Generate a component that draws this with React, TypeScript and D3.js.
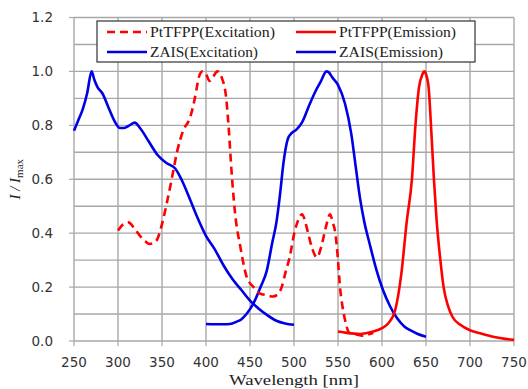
import React from 'react';
import * as d3 from 'd3';

type Pt = [number, number];

// ZAIS excitation (blue solid)
const zaisExcitation: Pt[] = [
  [250, 0.78], [255, 0.82], [260, 0.86], [265, 0.92], [270, 1.0], [273, 0.97], [277, 0.94], [282, 0.92],
  [290, 0.86], [297, 0.81], [302, 0.79], [307, 0.79], [313, 0.8], [319, 0.81], [325, 0.79], [335, 0.74],
  [345, 0.69], [355, 0.66], [365, 0.64], [372, 0.6], [380, 0.54], [390, 0.46], [400, 0.39], [410, 0.34],
  [420, 0.28], [430, 0.23], [440, 0.19], [450, 0.15], [460, 0.12], [470, 0.095], [480, 0.075], [490, 0.065],
  [500, 0.06],
];

// ZAIS emission (blue solid)
const zaisEmission: Pt[] = [
  [400, 0.063], [410, 0.062], [420, 0.062], [427, 0.063], [435, 0.072], [440, 0.08], [446, 0.1], [454, 0.14],
  [462, 0.2], [469, 0.26], [475, 0.36], [480, 0.44], [484, 0.54], [488, 0.66], [493, 0.75], [497, 0.77],
  [503, 0.785], [509, 0.81], [518, 0.88], [525, 0.93], [530, 0.96], [537, 1.0], [540, 0.995], [543, 0.98],
  [550, 0.95], [558, 0.88], [565, 0.77], [570, 0.65], [575, 0.53], [580, 0.44], [586, 0.36], [594, 0.26],
  [601, 0.19], [609, 0.13], [617, 0.085], [625, 0.055], [632, 0.04], [640, 0.027], [650, 0.016],
];

// PtTFPP excitation (red dashed)
const ptExcitation: Pt[] = [
  [300, 0.41], [305, 0.43], [312, 0.44], [318, 0.42], [325, 0.39], [331, 0.37], [336, 0.36], [341, 0.365],
  [345, 0.38], [348, 0.41], [352, 0.46], [356, 0.52], [361, 0.6], [367, 0.7], [374, 0.78], [382, 0.83],
  [386, 0.88], [389, 0.93], [392, 0.98], [396, 1.0], [400, 0.99], [404, 0.965], [408, 0.98], [413, 1.0],
  [418, 0.976], [423, 0.9], [426, 0.78], [429, 0.63], [433, 0.475], [439, 0.35], [446, 0.24], [454, 0.2],
  [461, 0.177], [469, 0.17], [476, 0.165], [482, 0.175], [486, 0.2], [490, 0.25], [495, 0.31], [501, 0.41],
  [505, 0.45], [509, 0.47], [513, 0.44], [516, 0.4], [521, 0.34], [526, 0.31], [531, 0.35], [536, 0.42],
  [541, 0.47], [544, 0.44], [547, 0.4], [550, 0.3], [552, 0.21], [555, 0.13], [558, 0.078], [563, 0.03],
  [570, 0.025], [578, 0.02], [585, 0.025], [590, 0.03],
];

// PtTFPP emission (red solid)
const ptEmission: Pt[] = [
  [550, 0.035], [560, 0.03], [575, 0.026], [590, 0.035], [600, 0.048], [607, 0.065], [615, 0.115], [622, 0.25],
  [628, 0.44], [634, 0.6], [638, 0.8], [642, 0.94], [646, 0.99], [648, 1.0], [650, 0.99], [653, 0.94],
  [656, 0.78], [659, 0.6], [662, 0.45], [666, 0.31], [670, 0.2], [675, 0.13], [680, 0.09], [689, 0.06],
  [700, 0.04], [710, 0.03], [726, 0.016], [740, 0.008], [750, 0.004],
];

const xTicks = [250, 300, 350, 400, 450, 500, 550, 600, 650, 700, 750];
const yTicks = [0, 0.2, 0.4, 0.6, 0.8, 1.0, 1.2];
const yGrid = [0, 0.1, 0.2, 0.3, 0.4, 0.5, 0.6, 0.7, 0.8, 0.9, 1.0, 1.1, 1.2];

const RED = '#ff0000';
const BLUE = '#0000e6';

export default function App() {
  const W = 528, H = 389;
  const x = d3.scaleLinear().domain([250, 750]).range([74, 514]);
  const y = d3.scaleLinear().domain([0, 1.2]).range([341, 17.5]);
  const line = d3.line<Pt>().x(d => x(d[0])).y(d => y(d[1])).curve(d3.curveMonotoneX);

  const series = [
    { data: zaisExcitation, color: BLUE, dash: undefined },
    { data: zaisEmission, color: BLUE, dash: undefined },
    { data: ptExcitation, color: RED, dash: '8,5' },
    { data: ptEmission, color: RED, dash: undefined },
  ];

  const legend = [
    { label: 'PtTFPP(Excitation)', color: RED, dash: '8,5', lx: 107, ly: 32, tl: 125 },
    { label: 'PtTFPP(Emission)', color: RED, dash: undefined, lx: 296, ly: 32, tl: 117 },
    { label: 'ZAIS(Excitation)', color: BLUE, dash: undefined, lx: 107, ly: 52, tl: 108 },
    { label: 'ZAIS(Emission)', color: BLUE, dash: undefined, lx: 296, ly: 52, tl: 104 },
  ];

  const gridColor = '#a8a8a8';

  return (
    <svg width={W} height={H} style={{ position: 'absolute', left: 0, top: 0, background: '#fff' }}>
      {/* grid */}
      {xTicks.map(t => (
        <line key={'gx' + t} x1={x(t)} x2={x(t)} y1={y(1.2)} y2={y(0)} stroke={gridColor} strokeWidth={1.4} />
      ))}
      {yGrid.map(t => (
        <line key={'gy' + t} x1={x(250)} x2={x(750)} y1={y(t)} y2={y(t)} stroke={gridColor} strokeWidth={1.4} />
      ))}
      {/* ticks */}
      {xTicks.map(t => (
        <line key={'tx' + t} x1={x(t)} x2={x(t)} y1={y(0)} y2={y(0) + 5} stroke={gridColor} strokeWidth={1.2} />
      ))}
      {yTicks.map(t => (
        <line key={'ty' + t} x1={x(250) - 5} x2={x(250)} y1={y(t)} y2={y(t)} stroke={gridColor} strokeWidth={1.2} />
      ))}
      {/* tick labels */}
      {xTicks.map(t => (
        <text key={'lx' + t} x={x(t)} y={367} textAnchor="middle" fontFamily="DejaVu Sans" fontSize={13.5} fill="#333">{t}</text>
      ))}
      {yTicks.map(t => (
        <text key={'ly' + t} x={53} y={y(t)} dy="0.36em" textAnchor="end" fontFamily="DejaVu Sans" fontSize={13.5} fill="#333">{t.toFixed(1)}</text>
      ))}
      {/* series */}
      {series.map((s, i) => (
        <path key={'s' + i} d={line(s.data) || ''} fill="none" stroke={s.color} strokeWidth={2.6}
          strokeDasharray={s.dash} strokeLinejoin="round" />
      ))}
      {/* legend */}
      <rect x={97} y={21} width={378} height={41} fill="#fff" stroke="#333" strokeWidth={1.2} />
      {legend.map(l => (
        <g key={l.label}>
          <line x1={l.lx} x2={l.lx + 40} y1={l.ly} y2={l.ly} stroke={l.color} strokeWidth={2.6} strokeDasharray={l.dash} />
          <text x={l.lx + 43} y={l.ly} dy="0.33em" fontFamily="Liberation Serif" fontSize={15} fill="#222"
            textLength={l.tl} lengthAdjust="spacingAndGlyphs">{l.label}</text>
        </g>
      ))}
      {/* axis titles */}
      <text transform={`translate(20,${(y(0) + y(1.2)) / 2}) rotate(-90)`} textAnchor="middle"
        fontFamily="Liberation Serif" fontStyle="italic" fontSize={15} fill="#222">
        I / I<tspan fontSize={11} dy={3} fontStyle="normal">max</tspan>
      </text>
      <text x={(x(250) + x(750)) / 2} y={385} textAnchor="middle" fontFamily="Liberation Serif" fontSize={15}
        fill="#222" textLength={130} lengthAdjust="spacingAndGlyphs">Wavelength [nm]</text>
    </svg>
  );
}
